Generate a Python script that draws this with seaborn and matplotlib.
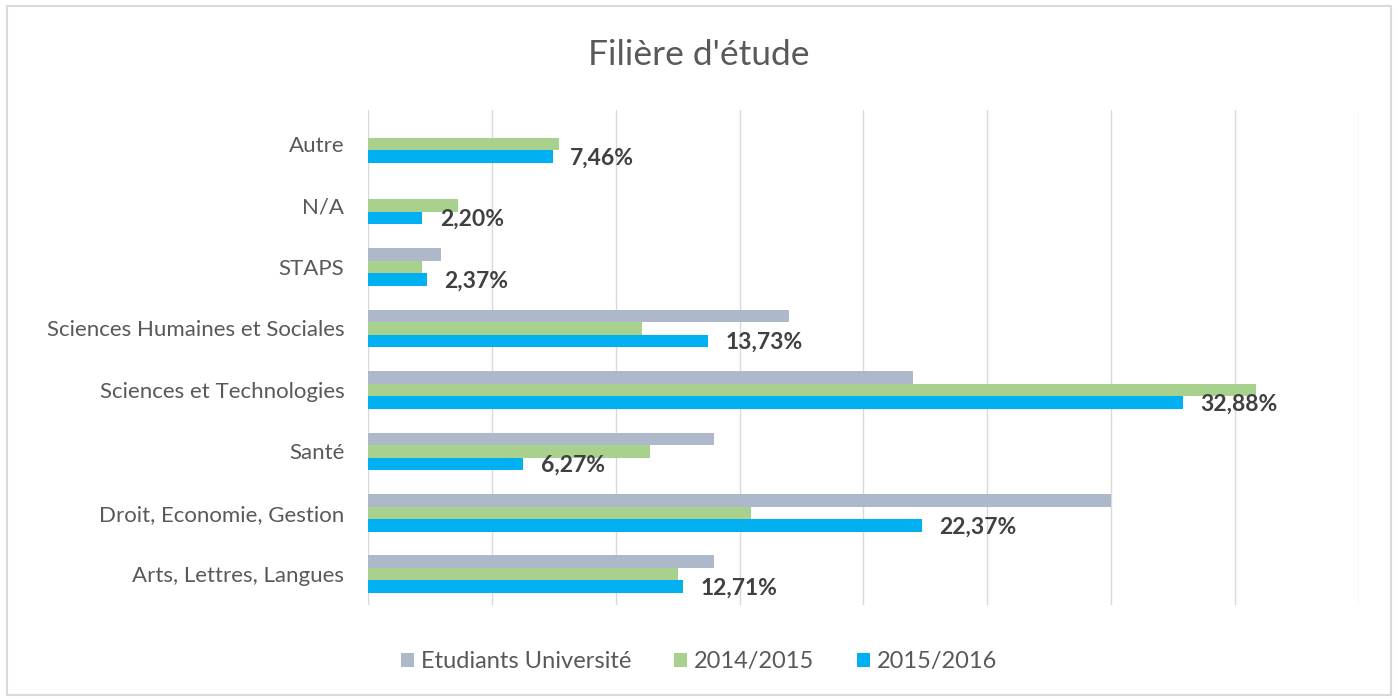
import pandas as pd
import matplotlib.pyplot as plt
import seaborn as sns
from matplotlib.patches import Rectangle

# categories top -> bottom
filieres = ['Autre', 'N/A', 'STAPS', 'Sciences Humaines et Sociales', 'Sciences et Technologies',
            'Santé', 'Droit, Economie, Gestion', 'Arts, Lettres, Langues']
series = ['Etudiants Université', '2014/2015', '2015/2016']

etudiants_univ = [0, 0, 2.95, 17.0, 22.0, 13.95, 30.0, 13.95]
annee_1415 = [7.7, 3.65, 2.2, 11.05, 35.85, 11.4, 15.45, 12.5]
annee_1516 = [7.46, 2.20, 2.37, 13.73, 32.88, 6.27, 22.37, 12.71]

colors = ['#adb9ca', '#a9d18e', '#00b0f0']

df = pd.DataFrame({
    'Filiere': filieres * 3,
    'Serie': [s for s in series for _ in filieres],
    'Valeur': etudiants_univ + annee_1415 + annee_1516,
})

sns.set_theme(style='white')
plt.rcParams['font.family'] = ['Lato', 'DejaVu Sans']

fig = plt.figure(figsize=(13.98, 6.99), dpi=100)
ax = fig.add_axes([0.2632, 0.1345, 0.7089, 0.7081])

sns.barplot(data=df, y='Filiere', x='Valeur', hue='Serie', order=filieres, hue_order=series,
            palette=colors, orient='h', width=0.61, linewidth=0, saturation=1, ax=ax)

# labels only on 2015/2016 bars
blue = ax.containers[2]
for bar, v in zip(blue, annee_1516):
    ax.text(bar.get_width() + 0.7, bar.get_y() + bar.get_height() / 2 + 0.03,
            f'{v:.2f}%'.replace('.', ','), va='center', ha='left',
            fontsize=16.5, fontweight='bold', color='#404040')

ax.set_xlim(0, 40)
ax.set_ylim(7.5, -0.55)
ax.set_xticks(range(0, 41, 5))
ax.set_xticklabels([])
ax.xaxis.grid(True, color='#d9d9d9', linewidth=1)
ax.set_axisbelow(True)
for s in ax.spines.values():
    s.set_visible(False)
ax.tick_params(axis='y', length=0, pad=17, labelsize=16, labelcolor='#595959')
ax.tick_params(axis='x', length=0)
ax.set_xlabel('')
ax.set_ylabel('')

handles, labels = ax.get_legend_handles_labels()
ax.legend(handles, labels, loc='center', bbox_to_anchor=(0.5, 0.053),
          bbox_transform=fig.transFigure, ncol=3, frameon=False, fontsize=17,
          handlelength=0.55, handleheight=0.55, handletextpad=0.3, columnspacing=1.8,
          labelcolor='#595959')

fig.text(0.5, 0.921, "Filière d'étude", ha='center', va='center', fontsize=25.5, color='#595959')

fig.patches.append(Rectangle((0.005, 0.006), 0.99, 0.986, transform=fig.transFigure,
                             fill=False, edgecolor='#d9d9d9', linewidth=1.5))

fig.savefig('out.png', dpi=100, facecolor='white')
